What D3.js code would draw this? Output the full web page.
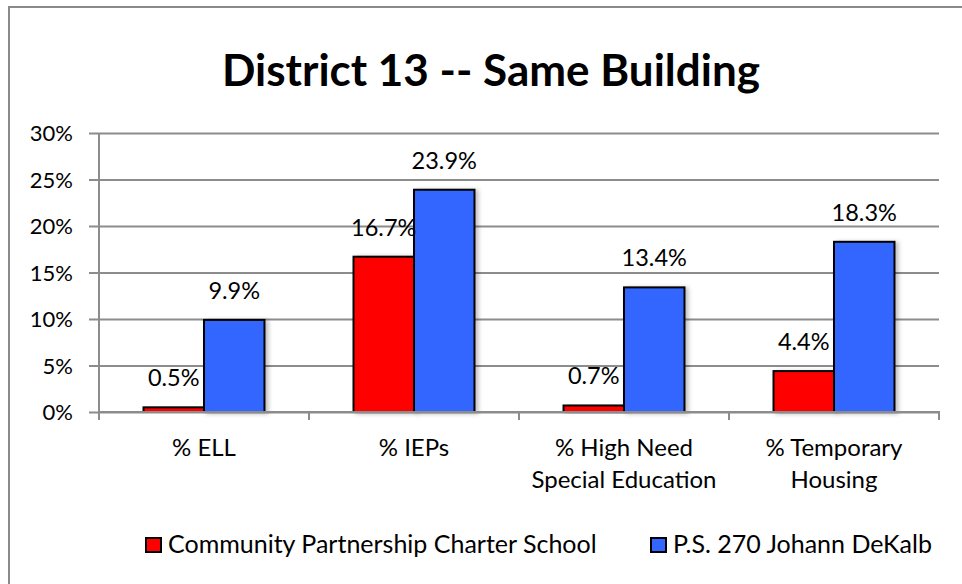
<!DOCTYPE html>
<html>
	<head>
		<meta charset="UTF-8" />
		<title>District 13 -- Same Building</title>
		<script src="https://d3js.org/d3.v7.min.js"></script>
		<style>
			body{ margin:0; background:#fff; }
			text{ font-family: Lato, "Open Sans", sans-serif; fill:#000; }
			.grid line{ stroke:#8c8c8c; stroke-width:2; }
			.grid path{ display:none; }
			.bar{ stroke:#000; stroke-width:2; }
		</style>
	</head>
	<body>

	<script type="text/javascript">
		// data
		var categories = ["% ELL", "% IEPs", "% High Need Special Education", "% Temporary Housing"];
		var categoryLines = [["% ELL"], ["% IEPs"], ["% High Need", "Special Education"], ["% Temporary", "Housing"]];
		var seriesNames = ["Community Partnership Charter School", "P.S. 270 Johann DeKalb"];
		var charterValues = [0.005, 0.167, 0.007, 0.044];
		var ps270Values = [0.099, 0.239, 0.134, 0.183];
		var yTicks = [0, 0.05, 0.10, 0.15, 0.20, 0.25, 0.30];
		var colors = ["#ff0000", "#3366ff"];

		var width = 962;
		var height = 584;
		var plotLeft = 99, plotRight = 939, plotTop = 133, plotBottom = 412;

		var svg = d3.select("body").append("svg").attr("width", width).attr("height", height);

		var defs = svg.append("defs");
		var f = defs.append("filter").attr("id", "shadow").attr("x", "-20%").attr("y", "-20%").attr("width", "150%").attr("height", "140%");
		f.append("feDropShadow").attr("dx", 3).attr("dy", 1).attr("stdDeviation", 2)
			.attr("flood-color", "#000").attr("flood-opacity", 0.25);

		// chart frame
		svg.append("rect")
			.attr("x", 9).attr("y", 7).attr("width", 980).attr("height", 600)
			.attr("fill", "none").attr("stroke", "#8a8a8a").attr("stroke-width", 2);

		svg.append("text")
			.attr("x", 491).attr("y", 86)
			.attr("text-anchor", "middle")
			.style("font-size", "44px").style("font-weight", "bold")
			.text("District 13 -- Same Building");

		var y = d3.scaleLinear().domain([0, 0.30]).range([plotBottom, plotTop]);
		var x0 = d3.scaleBand().domain(categories).range([plotLeft, plotRight]).padding(0);
		var x1 = d3.scaleBand().domain(seriesNames).range([0, x0.bandwidth()]).paddingInner(0).paddingOuter(0.736);

		// gridlines + y ticks
		var yAxis = d3.axisLeft(y).tickValues(yTicks).tickFormat(d3.format(".0%"))
			.tickSize(-(plotRight - plotLeft)).tickPadding(16);
		var gy = svg.append("g").attr("class", "grid")
			.attr("transform", "translate(" + plotLeft + ",0)")
			.call(yAxis);
		gy.selectAll(".tick line").attr("x1", -10);
		gy.selectAll(".tick text").style("font-size", "22px").attr("x", -26).attr("dy", "0.36em");

		// left axis line
		svg.append("line")
			.attr("x1", plotLeft).attr("x2", plotLeft).attr("y1", plotTop).attr("y2", plotBottom + 1)
			.attr("stroke", "#8c8c8c").attr("stroke-width", 2);

		// category boundary ticks
		var bounds = categories.map(function(c){ return x0(c); }).concat([plotRight]);
		svg.selectAll(".xtick").data(bounds).enter().append("line")
			.attr("x1", function(d){ return d; }).attr("x2", function(d){ return d; })
			.attr("y1", plotBottom).attr("y2", plotBottom + 8)
			.attr("stroke", "#8c8c8c").attr("stroke-width", 2);

		var rows = categories.map(function(c, i){
			return [
				{cat: c, name: seriesNames[0], value: charterValues[i], color: colors[0]},
				{cat: c, name: seriesNames[1], value: ps270Values[i], color: colors[1]}
			];
		});

		var groups = svg.selectAll(".group").data(rows).enter().append("g")
			.attr("transform", function(d, i){ return "translate(" + x0(categories[i]) + ",0)"; });

		groups.selectAll("rect").data(function(d){ return d; }).enter().append("rect")
			.attr("class", "bar")
			.attr("x", function(d){ return x1(d.name); })
			.attr("width", x1.bandwidth())
			.attr("y", function(d){ return y(d.value); })
			.attr("height", function(d){ return plotBottom - y(d.value); })
			.attr("fill", function(d){ return d.color; })
			.attr("filter", "url(#shadow)");

		groups.selectAll(".lbl").data(function(d){ return d; }).enter().append("text")
			.attr("x", function(d){ return x1(d.name) + x1.bandwidth() / 2; })
			.attr("y", function(d){ return y(d.value) - 21; })
			.attr("text-anchor", "middle")
			.style("font-size", "23.5px")
			.text(function(d){ return d3.format(".1%")(d.value); });

		// x axis line on top of bars
		svg.append("line")
			.attr("x1", plotLeft).attr("x2", plotRight + 1).attr("y1", plotBottom).attr("y2", plotBottom)
			.attr("stroke", "#8c8c8c").attr("stroke-width", 2);

		// category labels
		categoryLines.forEach(function(lines, i){
			var cx = x0(categories[i]) + x0.bandwidth() / 2;
			var t = svg.append("text")
				.attr("x", cx)
				.attr("y", 456)
				.attr("text-anchor", "middle")
				.style("font-size", "24px");
			lines.forEach(function(l, j){
				t.append("tspan").attr("x", cx)
					.attr("dy", j == 0 ? 0 : 32).text(l);
			});
		});

		// legend
		var legendX = [146, 651];
		var lg = svg.selectAll(".legend").data(seriesNames).enter().append("g")
			.attr("transform", function(d, i){ return "translate(" + legendX[i] + ",538)"; });
		lg.append("rect").attr("width", 15).attr("height", 14)
			.attr("fill", function(d, i){ return colors[i]; })
			.attr("stroke", "#000").attr("stroke-width", 2);
		lg.append("text").attr("x", 22).attr("y", 15)
			.style("font-size", "25px")
			.text(function(d){ return d; });
	</script>

	</body>
</html>
